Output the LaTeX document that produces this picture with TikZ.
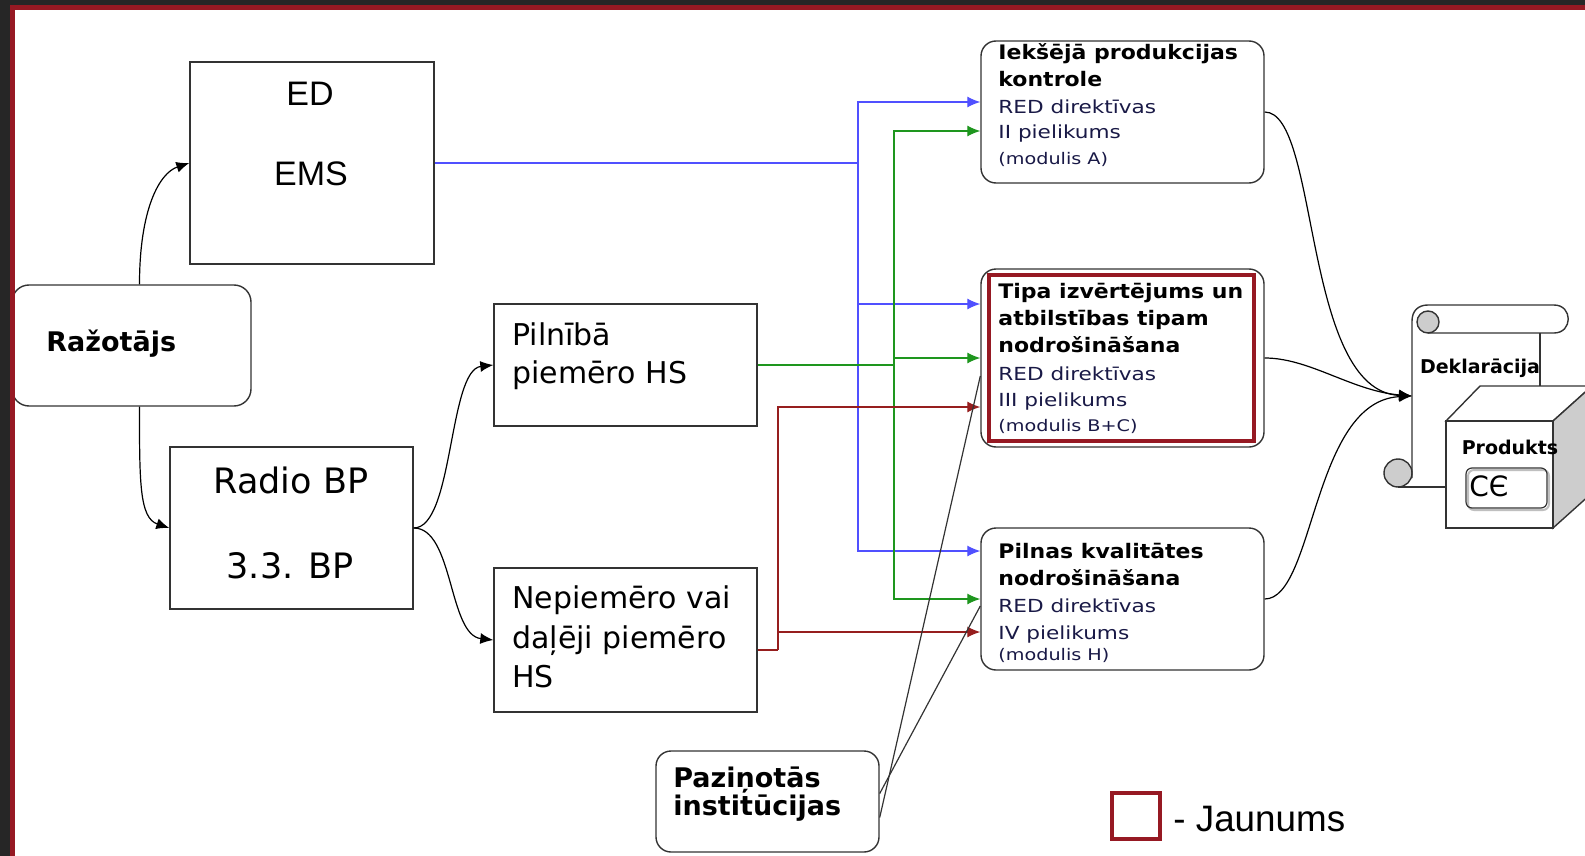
\documentclass[tikz,border=0pt]{standalone}
\usepackage{fontspec}
\setmainfont{DejaVu Sans}
\newfontfamily\arialf{Liberation Sans}
\newfontfamily\boxfont[FakeStretch=1.2]{DejaVu Sans}
\newfontfamily\boxbold[FakeStretch=1.1]{DejaVu Sans}
\usetikzlibrary{arrows.meta}

\definecolor{tumss}{RGB}{38,38,38}
\definecolor{sarkans}{RGB}{150,25,35}
\definecolor{zils}{RGB}{80,80,255}
\definecolor{zals}{RGB}{30,150,30}
\definecolor{bruns}{RGB}{150,30,30}
\definecolor{teksts}{RGB}{25,25,70}
\definecolor{peleks}{RGB}{205,205,205}

\begin{document}
\begin{tikzpicture}[x=0.5pt,y=-0.5pt,
    kaste/.style={draw=black!80, line width=0.7pt, fill=white, inner sep=0pt},
    apala/.style={kaste, rounded corners=7.5pt},
    jauns/.style={draw=sarkans, line width=2pt, inner sep=0pt},
    uzraksts/.style={inner sep=0pt},
    bulta/.style={-{Latex[length=6.5pt,width=5.5pt]}, line width=0.6pt},
    linija/.style={line width=0.6pt, draw=black!80},
    forma/.style={line width=0.7pt, draw=black!80}]

    \useasboundingbox (0,0) rectangle (1585,856);

    % Fonti
    \def\lielais{\fontsize{17.5}{20}\selectfont}
    \def\videjais{\fontsize{15}{18}\selectfont}
    \def\trekns{\boxbold\bfseries\fontsize{10}{12}\selectfont}
    \def\parasts{\boxfont\fontsize{9}{11}\selectfont\color{teksts}}
    \def\mazais{\boxfont\fontsize{8}{10}\selectfont\color{teksts}}

    % Kreisās kastes
    \node[kaste, minimum width=122pt, minimum height=101pt] (ed) at (312,163) {};
    \node[apala, rounded corners=8.5pt, minimum width=119.5pt, minimum height=60.5pt] (raz) at (131.5,345.5) {};
    \node[kaste, minimum width=121.5pt, minimum height=81pt] (rbp) at (291.5,528) {};
    \node[kaste, minimum width=131.5pt, minimum height=61pt] (pil) at (625.5,365) {};
    \node[kaste, minimum width=131.5pt, minimum height=72pt] (nep) at (625.5,640) {};
    \node[apala, minimum width=111.5pt, minimum height=50.5pt] (paz) at (767.5,801.5) {};

    \node[uzraksts, anchor=base, font=\arialf\fontsize{17}{20}\selectfont] (edt) at (310,105) {ED};
    \node[uzraksts, anchor=base, font=\arialf\fontsize{17}{20}\selectfont] (emst) at (311,185) {EMS};
    \node[uzraksts, anchor=base west, font=\bfseries\fontsize{13.5}{16}\selectfont] (razt) at (46,351) {Ražotājs};
    \node[uzraksts, anchor=base, font=\lielais] (rbpt) at (291,493) {Radio BP};
    \node[uzraksts, anchor=base, font=\lielais] (bpt) at (290,578) {3.3. BP};
    \node[uzraksts, anchor=base west, font=\videjais] (pil1) at (512,345) {Pilnībā};
    \node[uzraksts, anchor=base west, font=\videjais] (pil2) at (512,383) {piemēro HS};
    \foreach \y/\txt in {608/Nepiemēro vai, 648/daļēji piemēro, 687/HS}
        \node[uzraksts, anchor=base west, font=\videjais] (nep\y) at (512,\y) {\txt};
    \node[uzraksts, anchor=base west, font=\bfseries\fontsize{13.5}{16}\selectfont] (paz1) at (673,787) {Paziņotās};
    \node[uzraksts, anchor=base west, font=\bfseries\fontsize{13.5}{16}\selectfont] (paz2) at (673,815) {institūcijas};

    % Moduļi
    \node[apala, minimum width=141.5pt, minimum height=71pt] (b1) at (1122.5,112) {};
    \node[apala, minimum width=141.5pt, minimum height=89pt] (b2) at (1122.5,358) {};
    \node[apala, minimum width=141.5pt, minimum height=71pt] (b3) at (1122.5,599) {};
    \node[jauns, minimum width=132.5pt, minimum height=83pt] (jb2) at (1121.5,358) {};

    \foreach \y/\f/\txt in {
        60/\trekns/Iekšējā produkcijas, 87/\trekns/kontrole,
        113/\parasts/RED direktīvas, 139/\parasts/II pielikums, 164/\mazais/(modulis A),
        298/\trekns/Tipa izvērtējums un, 325/\trekns/atbilstības tipam,
        352/\trekns/nodrošināšana, 380/\parasts/RED direktīvas,
        406/\parasts/III pielikums, 431/\mazais/(modulis B+C),
        558/\trekns/Pilnas kvalitātes, 585/\trekns/nodrošināšana,
        612/\parasts/RED direktīvas, 639/\parasts/IV pielikums, 660/\mazais/(modulis H)}
        \node[uzraksts, anchor=base west, font=\f] (m\y) at (998,\y) {\txt};

    % Bultas no ražotāja
    \draw[bulta] ([xshift=4pt]raz.north) .. controls +(0,-75) and +(-30,10) .. (ed.west);
    \draw[bulta] ([xshift=4pt]raz.south) .. controls +(0,75) and +(-30,-10) .. (rbp.west);
    \draw[bulta] (rbp.east) .. controls +(40,0) and +(-45,5) .. (pil.west);
    \draw[bulta] (rbp.east) .. controls +(40,0) and +(-45,-5) .. (nep.west);

    % Zilās bultas
    \coordinate (zj) at (858,163);
    \draw[line width=0.6pt, zils] (ed.east) -- (zj);
    \draw[bulta, zils] (zj) |- ([yshift=5pt]b1.west);
    \draw[bulta, zils] (zj) |- ([yshift=27pt]b2.west);
    \draw[bulta, zils] (zj) |- ([yshift=24pt]b3.west);

    % Zaļās bultas
    \coordinate (gj) at (894,365);
    \draw[line width=0.6pt, zals] (pil.east) -- (gj);
    \draw[bulta, zals] (gj) |- ([yshift=-9.5pt]b1.west);
    \draw[bulta, zals] (gj) |- (b2.west);
    \draw[bulta, zals] (gj) |- (b3.west);

    % Sarkanās bultas
    \coordinate (sj) at (778,650);
    \draw[line width=0.6pt, bruns] ([yshift=-5pt]nep.east) -- (sj);
    \draw[bulta, bruns] (sj) |- ([yshift=-24.5pt]b2.west);
    \draw[bulta, bruns] (sj) |- ([yshift=-16.5pt]b3.west);

    % Paziņotās institūcijas
    \draw[linija] ([yshift=-8pt]paz.east) -- ([yshift=-9pt]b2.west);
    \draw[linija] ([yshift=4pt]paz.east) -- ([yshift=-3.5pt]b3.west);

    % Deklarācija
    \draw[forma, fill=peleks] (1398,473) circle (14);
    \draw[forma] (1412,478) -- (1412,321)
        .. controls (1412,311) and (1418,305) .. (1428,305) -- (1554,305)
        .. controls (1573,305) and (1573,333) .. (1554,333) -- (1428,333);
    \draw[forma, fill=peleks] (1428,322) circle (11);
    \draw[forma] (1540,333) -- (1540,386);
    \draw[forma] (1398,487) -- (1447,487);
    \node[uzraksts, anchor=base, font=\bfseries\fontsize{9.5}{11}\selectfont] (dekt) at (1480,373) {Deklarācija};

    % Produkts
    \draw[forma, fill=white] (1446,421) -- (1480,386) -- (1592,386) -- (1553,421) -- cycle;
    \draw[forma, fill=peleks] (1553,421) -- (1592,386) -- (1592,493) -- (1553,528) -- cycle;
    \draw[forma, fill=white] (1446,421) rectangle (1553,528);
    \draw[gray!50, line width=1pt, rounded corners=3pt] (1468,470) rectangle (1549,510);
    \draw[black!80, line width=0.6pt, rounded corners=3pt] (1466,468) rectangle (1547,508);
    \node[uzraksts, anchor=base, font=\bfseries\fontsize{9.5}{11}\selectfont] (prod) at (1510,454) {Produkts};
    \node[uzraksts, anchor=base west, font=\fontsize{14}{16}\selectfont] (ce) at (1469,496) {CЄ};

    \coordinate (dek) at (1412,396);
    \draw[bulta] (b1.east) .. controls +(55,0) and +(-110,-5) .. (dek);
    \draw[bulta] (b2.east) .. controls +(45,0) and +(-60,-5) .. (dek);
    \draw[bulta] (b3.east) .. controls +(50,0) and +(-100,5) .. (dek);

    % Leģenda
    \node[jauns, minimum width=24pt, minimum height=23pt] (leg) at (1136,816) {};
    \node[uzraksts, anchor=base west, font=\arialf\fontsize{18.4}{22}\selectfont] (legt) at (1173,831) {- Jaunums};

    % Rāmis
    \fill[tumss] (0,0) rectangle (10,856);
    \fill[tumss] (0,0) rectangle (1585,5);
    \fill[sarkans] (10,5) rectangle (15,856);
    \fill[sarkans] (10,5) rectangle (1585,10);
\end{tikzpicture}
\end{document}
